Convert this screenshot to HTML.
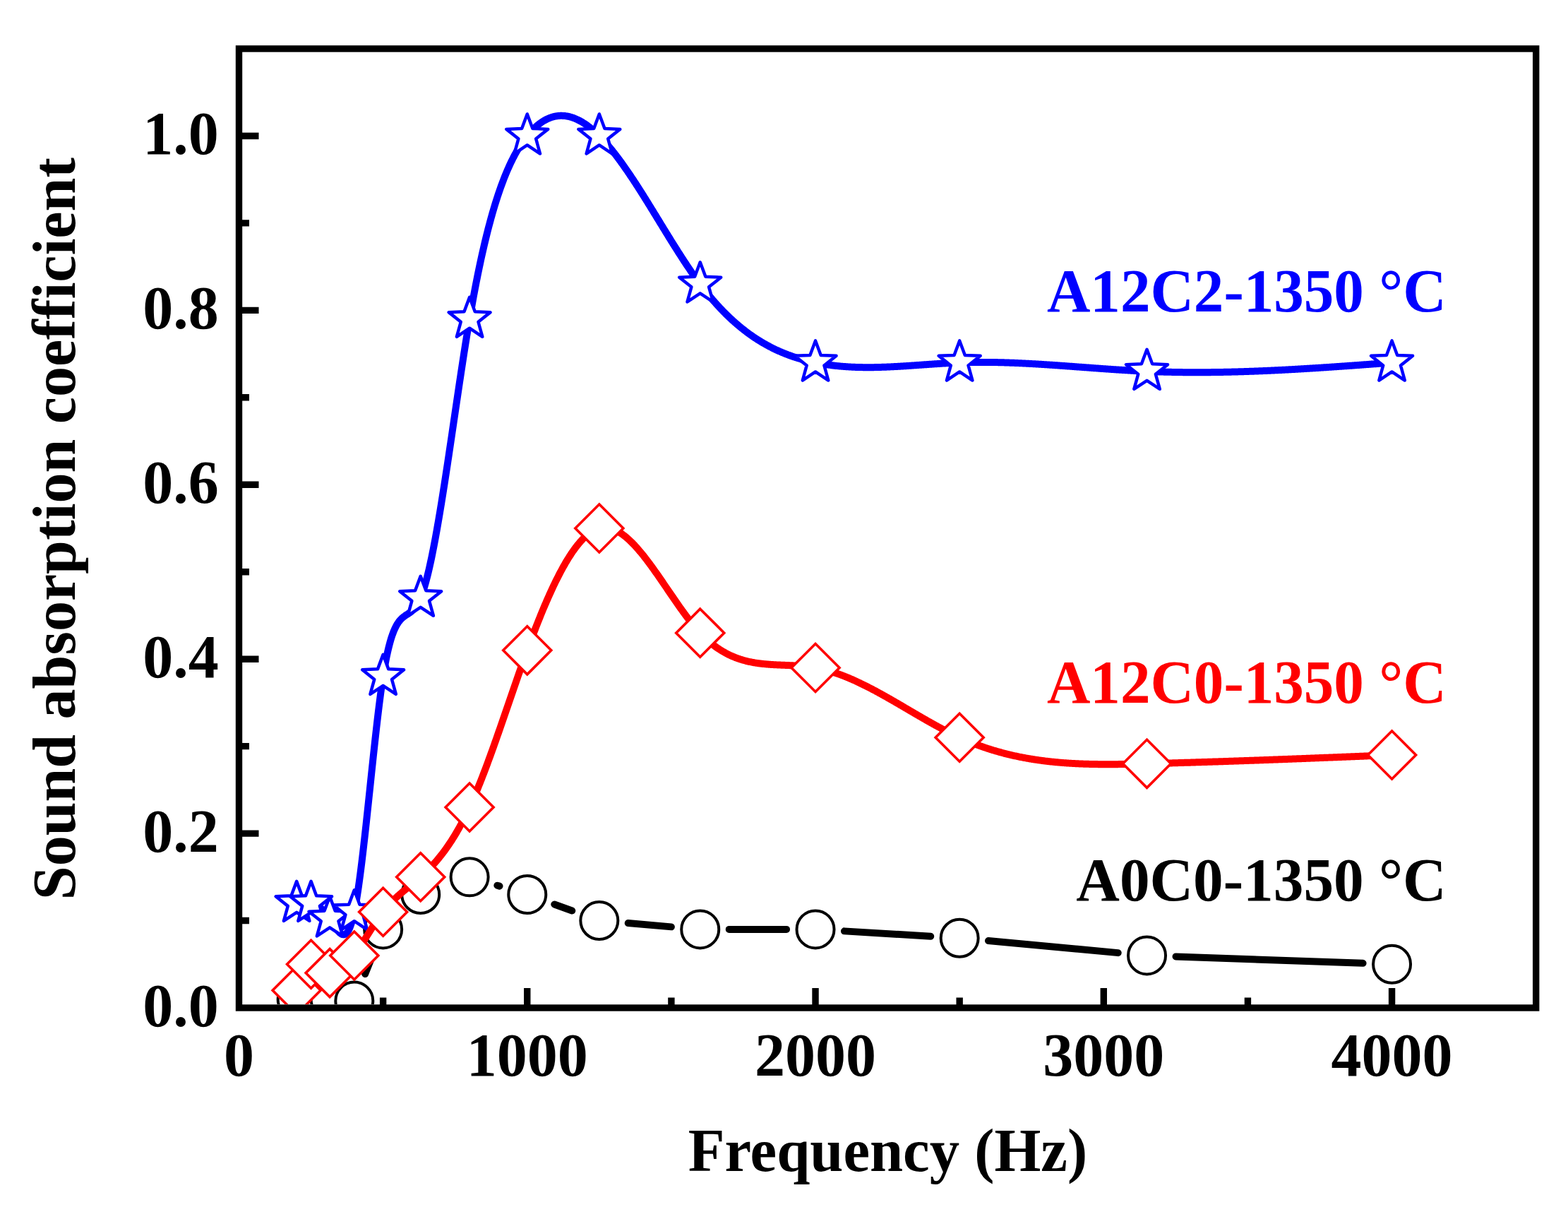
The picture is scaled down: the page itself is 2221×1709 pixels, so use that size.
<!DOCTYPE html>
<html><head><meta charset="utf-8"><title>Sound absorption coefficient</title>
<style>
html,body{margin:0;padding:0;background:#fff;}
svg{display:block;}
text{font-family:"Liberation Serif","Times New Roman",serif;font-weight:bold;}
</style></head><body>
<svg width="2221" height="1709" viewBox="0 0 2221 1709">
<rect x="0" y="0" width="2221" height="1709" fill="#fff"/>
<defs><clipPath id="pa"><rect x="343.5" y="74.0" width="1827.2" height="1348.0"/></clipPath></defs>
<g clip-path="url(#pa)">
<path d="M517.14,1379.10 L527.30,1353.92 M704.36,1253.69 L707.52,1254.64 M785.31,1280.49 L810.29,1289.56 M889.68,1307.07 L950.88,1312.36 M1032.73,1315.89 L1114.03,1315.89 M1195.96,1318.37 L1318.24,1325.76 M1399.99,1332.03 L1583.72,1349.13 M1665.51,1354.38 L1930.59,1363.82" fill="none" stroke="#000" stroke-width="10" stroke-linecap="round"/>
<circle cx="420.15" cy="1414.65" r="26.5" fill="#fff" stroke="#000" stroke-width="4"/>
<circle cx="440.57" cy="1414.65" r="26.5" fill="#fff" stroke="#000" stroke-width="4"/>
<circle cx="467.10" cy="1414.65" r="26.5" fill="#fff" stroke="#000" stroke-width="4"/>
<circle cx="501.81" cy="1417.12" r="26.5" fill="#fff" stroke="#000" stroke-width="4"/>
<circle cx="542.63" cy="1315.89" r="26.5" fill="#fff" stroke="#000" stroke-width="4"/>
<circle cx="595.71" cy="1266.51" r="26.5" fill="#fff" stroke="#000" stroke-width="4"/>
<circle cx="665.11" cy="1241.82" r="26.5" fill="#fff" stroke="#000" stroke-width="4"/>
<circle cx="746.77" cy="1266.51" r="26.5" fill="#fff" stroke="#000" stroke-width="4"/>
<circle cx="848.83" cy="1303.55" r="26.5" fill="#fff" stroke="#000" stroke-width="4"/>
<circle cx="991.73" cy="1315.89" r="26.5" fill="#fff" stroke="#000" stroke-width="4"/>
<circle cx="1155.03" cy="1315.89" r="26.5" fill="#fff" stroke="#000" stroke-width="4"/>
<circle cx="1359.17" cy="1328.24" r="26.5" fill="#fff" stroke="#000" stroke-width="4"/>
<circle cx="1624.54" cy="1352.93" r="26.5" fill="#fff" stroke="#000" stroke-width="4"/>
<circle cx="1971.57" cy="1365.27" r="26.5" fill="#fff" stroke="#000" stroke-width="4"/>
<path d="M420.15,1278.85 L421.19,1278.73 L422.22,1278.61 L423.26,1278.49 L424.29,1278.38 L425.33,1278.27 L426.36,1278.18 L427.40,1278.10 L428.43,1278.03 L429.47,1277.97 L430.50,1277.93 L431.54,1277.91 L432.57,1277.92 L433.61,1277.94 L434.64,1277.99 L435.68,1278.07 L436.71,1278.18 L437.75,1278.31 L438.78,1278.48 L439.82,1278.68 L440.85,1278.92 L441.89,1279.20 L442.92,1279.52 L443.96,1279.88 L444.99,1280.27 L446.03,1280.71 L447.06,1281.19 L448.10,1281.72 L449.13,1282.29 L450.17,1282.91 L451.20,1283.57 L452.24,1284.28 L453.27,1285.04 L454.31,1285.85 L455.34,1286.71 L456.38,1287.62 L457.41,1288.59 L458.45,1289.60 L459.48,1290.67 L460.52,1291.80 L461.55,1292.98 L462.59,1294.23 L463.62,1295.52 L464.66,1296.88 L465.69,1298.30 L466.73,1299.78 L467.76,1301.32 L468.80,1302.92 L469.83,1304.55 L470.87,1306.20 L471.90,1307.86 L472.94,1309.52 L473.97,1311.14 L475.01,1312.74 L476.04,1314.27 L477.08,1315.74 L478.11,1317.13 L479.15,1318.41 L480.18,1319.58 L481.22,1320.62 L482.25,1321.51 L483.29,1322.25 L484.32,1322.81 L485.36,1323.18 L486.39,1323.34 L487.43,1323.28 L488.46,1322.98 L489.50,1322.43 L490.53,1321.62 L491.57,1320.52 L492.60,1319.13 L493.64,1317.42 L494.67,1315.39 L495.71,1313.01 L496.74,1310.27 L497.78,1307.16 L498.81,1303.66 L499.85,1299.76 L500.88,1295.44 L501.92,1290.68 L502.95,1285.48 L503.99,1279.86 L505.02,1273.83 L506.06,1267.41 L507.09,1260.64 L508.13,1253.51 L509.16,1246.07 L510.20,1238.32 L511.23,1230.30 L512.27,1222.01 L513.30,1213.48 L514.34,1204.73 L515.37,1195.78 L516.41,1186.65 L517.44,1177.36 L518.48,1167.93 L519.51,1158.39 L520.54,1148.75 L521.58,1139.03 L522.61,1129.25 L523.65,1119.44 L524.68,1109.62 L525.72,1099.80 L526.75,1090.01 L527.79,1080.26 L528.82,1070.58 L529.86,1060.99 L530.89,1051.50 L531.93,1042.15 L532.96,1032.94 L534.00,1023.90 L535.03,1015.05 L536.07,1006.42 L537.10,998.01 L538.14,989.86 L539.17,981.97 L540.21,974.39 L541.24,967.11 L542.28,960.17 L543.31,953.58 L544.35,947.34 L545.38,941.45 L546.42,935.89 L547.45,930.65 L548.49,925.72 L549.52,921.09 L550.56,916.75 L551.59,912.69 L552.63,908.89 L553.66,905.35 L554.70,902.06 L555.73,899.00 L556.77,896.16 L557.80,893.53 L558.84,891.11 L559.87,888.88 L560.91,886.82 L561.94,884.93 L562.98,883.21 L564.01,881.62 L565.05,880.18 L566.08,878.86 L567.12,877.65 L568.15,876.55 L569.19,875.53 L570.22,874.60 L571.26,873.74 L572.29,872.94 L573.33,872.19 L574.36,871.48 L575.40,870.79 L576.43,870.12 L577.47,869.45 L578.50,868.77 L579.54,868.08 L580.57,867.37 L581.61,866.61 L582.64,865.80 L583.68,864.93 L584.71,863.99 L585.75,862.97 L586.78,861.86 L587.82,860.64 L588.85,859.30 L589.89,857.84 L590.92,856.25 L591.96,854.50 L592.99,852.60 L594.03,850.52 L595.06,848.27 L596.10,845.82 L597.13,843.18 L598.17,840.34 L599.20,837.32 L600.24,834.11 L601.27,830.73 L602.31,827.16 L603.34,823.43 L604.38,819.53 L605.41,815.47 L606.45,811.25 L607.48,806.88 L608.52,802.36 L609.55,797.69 L610.59,792.88 L611.62,787.94 L612.66,782.86 L613.69,777.65 L614.73,772.33 L615.76,766.88 L616.80,761.32 L617.83,755.64 L618.87,749.87 L619.90,743.98 L620.94,738.01 L621.97,731.93 L623.01,725.77 L624.04,719.53 L625.08,713.20 L626.11,706.80 L627.15,700.33 L628.18,693.79 L629.22,687.18 L630.25,680.52 L631.29,673.80 L632.32,667.04 L633.36,660.22 L634.39,653.37 L635.43,646.48 L636.46,639.55 L637.50,632.60 L638.53,625.62 L639.57,618.62 L640.60,611.61 L641.64,604.58 L642.67,597.55 L643.71,590.52 L644.74,583.48 L645.78,576.46 L646.81,569.44 L647.85,562.44 L648.88,555.45 L649.92,548.49 L650.95,541.56 L651.99,534.66 L653.02,527.79 L654.06,520.97 L655.09,514.19 L656.13,507.46 L657.16,500.78 L658.20,494.16 L659.23,487.60 L660.27,481.11 L661.30,474.69 L662.34,468.34 L663.37,462.07 L664.41,455.89 L665.44,449.79 L666.48,443.79 L667.51,437.87 L668.55,432.04 L669.58,426.31 L670.61,420.65 L671.65,415.09 L672.68,409.61 L673.72,404.22 L674.75,398.91 L675.79,393.68 L676.82,388.54 L677.86,383.48 L678.89,378.50 L679.93,373.61 L680.96,368.79 L682.00,364.05 L683.03,359.39 L684.07,354.80 L685.10,350.30 L686.14,345.87 L687.17,341.51 L688.21,337.23 L689.24,333.03 L690.28,328.90 L691.31,324.83 L692.35,320.85 L693.38,316.93 L694.42,313.08 L695.45,309.30 L696.49,305.59 L697.52,301.95 L698.56,298.37 L699.59,294.86 L700.63,291.42 L701.66,288.04 L702.70,284.72 L703.73,281.47 L704.77,278.28 L705.80,275.15 L706.84,272.09 L707.87,269.08 L708.91,266.13 L709.94,263.24 L710.98,260.41 L712.01,257.64 L713.05,254.92 L714.08,252.26 L715.12,249.65 L716.15,247.10 L717.19,244.60 L718.22,242.15 L719.26,239.76 L720.29,237.42 L721.33,235.12 L722.36,232.88 L723.40,230.68 L724.43,228.54 L725.47,226.44 L726.50,224.38 L727.54,222.37 L728.57,220.41 L729.61,218.49 L730.64,216.62 L731.68,214.79 L732.71,213.00 L733.75,211.25 L734.78,209.54 L735.82,207.87 L736.85,206.24 L737.89,204.65 L738.92,203.10 L739.96,201.58 L740.99,200.10 L742.03,198.65 L743.06,197.24 L744.10,195.86 L745.13,194.51 L746.17,193.20 L747.20,191.92 L748.24,190.67 L749.27,189.45 L750.31,188.26 L751.34,187.10 L752.38,185.97 L753.41,184.87 L754.45,183.80 L755.48,182.76 L756.52,181.75 L757.55,180.77 L758.59,179.82 L759.62,178.90 L760.66,178.00 L761.69,177.14 L762.73,176.30 L763.76,175.50 L764.80,174.72 L765.83,173.97 L766.87,173.25 L767.90,172.55 L768.94,171.89 L769.97,171.25 L771.01,170.64 L772.04,170.06 L773.08,169.50 L774.11,168.97 L775.15,168.47 L776.18,167.99 L777.22,167.54 L778.25,167.12 L779.29,166.73 L780.32,166.36 L781.36,166.01 L782.39,165.70 L783.43,165.40 L784.46,165.14 L785.50,164.90 L786.53,164.68 L787.57,164.49 L788.60,164.32 L789.64,164.18 L790.67,164.07 L791.71,163.97 L792.74,163.91 L793.78,163.86 L794.81,163.84 L795.85,163.85 L796.88,163.88 L797.92,163.93 L798.95,164.00 L799.99,164.10 L801.02,164.22 L802.06,164.37 L803.09,164.54 L804.13,164.73 L805.16,164.94 L806.20,165.18 L807.23,165.43 L808.27,165.71 L809.30,166.02 L810.34,166.34 L811.37,166.68 L812.41,167.05 L813.44,167.44 L814.48,167.85 L815.51,168.28 L816.55,168.73 L817.58,169.20 L818.62,169.69 L819.65,170.21 L820.68,170.74 L821.72,171.29 L822.75,171.87 L823.79,172.46 L824.82,173.07 L825.86,173.70 L826.89,174.36 L827.93,175.03 L828.96,175.72 L830.00,176.43 L831.03,177.15 L832.07,177.90 L833.10,178.66 L834.14,179.45 L835.17,180.25 L836.21,181.07 L837.24,181.91 L838.28,182.76 L839.31,183.63 L840.35,184.52 L841.38,185.43 L842.42,186.35 L843.45,187.30 L844.49,188.25 L845.52,189.23 L846.56,190.22 L847.59,191.23 L848.63,192.25 L849.66,193.29 L850.70,194.35 L851.73,195.42 L852.77,196.50 L853.80,197.61 L854.84,198.72 L855.87,199.86 L856.91,201.00 L857.94,202.16 L858.98,203.34 L860.01,204.53 L861.05,205.73 L862.08,206.95 L863.12,208.18 L864.15,209.43 L865.19,210.68 L866.22,211.95 L867.26,213.24 L868.29,214.53 L869.33,215.84 L870.36,217.16 L871.40,218.49 L872.43,219.84 L873.47,221.19 L874.50,222.56 L875.54,223.94 L876.57,225.32 L877.61,226.72 L878.64,228.13 L879.68,229.56 L880.71,230.99 L881.75,232.43 L882.78,233.88 L883.82,235.34 L884.85,236.81 L885.89,238.29 L886.92,239.77 L887.96,241.27 L888.99,242.78 L890.03,244.29 L891.06,245.81 L892.10,247.34 L893.13,248.88 L894.17,250.43 L895.20,251.98 L896.24,253.54 L897.27,255.11 L898.31,256.68 L899.34,258.26 L900.38,259.85 L901.41,261.44 L902.45,263.04 L903.48,264.65 L904.52,266.26 L905.55,267.88 L906.59,269.50 L907.62,271.13 L908.66,272.76 L909.69,274.40 L910.73,276.04 L911.76,277.69 L912.80,279.34 L913.83,280.99 L914.87,282.65 L915.90,284.31 L916.94,285.97 L917.97,287.64 L919.01,289.31 L920.04,290.99 L921.08,292.66 L922.11,294.34 L923.15,296.02 L924.18,297.70 L925.22,299.39 L926.25,301.07 L927.29,302.76 L928.32,304.45 L929.36,306.14 L930.39,307.83 L931.43,309.52 L932.46,311.21 L933.50,312.90 L934.53,314.60 L935.57,316.29 L936.60,317.98 L937.64,319.67 L938.67,321.36 L939.71,323.05 L940.74,324.74 L941.78,326.42 L942.81,328.11 L943.85,329.79 L944.88,331.47 L945.92,333.15 L946.95,334.83 L947.99,336.50 L949.02,338.17 L950.06,339.84 L951.09,341.51 L952.13,343.17 L953.16,344.83 L954.20,346.48 L955.23,348.14 L956.27,349.78 L957.30,351.43 L958.34,353.06 L959.37,354.70 L960.41,356.33 L961.44,357.95 L962.48,359.57 L963.51,361.18 L964.55,362.79 L965.58,364.39 L966.62,365.99 L967.65,367.58 L968.69,369.16 L969.72,370.74 L970.75,372.31 L971.79,373.87 L972.82,375.42 L973.86,376.97 L974.89,378.51 L975.93,380.04 L976.96,381.57 L978.00,383.08 L979.03,384.59 L980.07,386.09 L981.10,387.58 L982.14,389.06 L983.17,390.54 L984.21,392.00 L985.24,393.45 L986.28,394.90 L987.31,396.33 L988.35,397.75 L989.38,399.17 L990.42,400.57 L991.45,401.96 L992.49,403.34 L993.52,404.71 L994.56,406.07 L995.59,407.42 L996.63,408.76 L997.66,410.09 L998.70,411.40 L999.73,412.71 L1000.77,414.00 L1001.80,415.29 L1002.84,416.56 L1003.87,417.82 L1004.91,419.08 L1005.94,420.32 L1006.98,421.55 L1008.01,422.77 L1009.05,423.99 L1010.08,425.19 L1011.12,426.38 L1012.15,427.56 L1013.19,428.73 L1014.22,429.89 L1015.26,431.04 L1016.29,432.18 L1017.33,433.31 L1018.36,434.43 L1019.40,435.55 L1020.43,436.65 L1021.47,437.74 L1022.50,438.82 L1023.54,439.89 L1024.57,440.96 L1025.61,442.01 L1026.64,443.05 L1027.68,444.09 L1028.71,445.11 L1029.75,446.13 L1030.78,447.13 L1031.82,448.13 L1032.85,449.12 L1033.89,450.10 L1034.92,451.07 L1035.96,452.03 L1036.99,452.98 L1038.03,453.92 L1039.06,454.85 L1040.10,455.78 L1041.13,456.69 L1042.17,457.60 L1043.20,458.50 L1044.24,459.39 L1045.27,460.27 L1046.31,461.14 L1047.34,462.00 L1048.38,462.86 L1049.41,463.70 L1050.45,464.54 L1051.48,465.37 L1052.52,466.19 L1053.55,467.00 L1054.59,467.81 L1055.62,468.60 L1056.66,469.39 L1057.69,470.17 L1058.73,470.94 L1059.76,471.70 L1060.80,472.46 L1061.83,473.21 L1062.87,473.95 L1063.90,474.68 L1064.94,475.40 L1065.97,476.12 L1067.01,476.83 L1068.04,477.53 L1069.08,478.22 L1070.11,478.90 L1071.15,479.58 L1072.18,480.25 L1073.22,480.91 L1074.25,481.57 L1075.29,482.22 L1076.32,482.86 L1077.36,483.49 L1078.39,484.11 L1079.43,484.73 L1080.46,485.34 L1081.50,485.95 L1082.53,486.55 L1083.57,487.14 L1084.60,487.72 L1085.64,488.30 L1086.67,488.86 L1087.71,489.43 L1088.74,489.98 L1089.78,490.53 L1090.81,491.07 L1091.85,491.61 L1092.88,492.14 L1093.92,492.66 L1094.95,493.18 L1095.99,493.68 L1097.02,494.19 L1098.06,494.68 L1099.09,495.17 L1100.13,495.66 L1101.16,496.13 L1102.20,496.61 L1103.23,497.07 L1104.27,497.53 L1105.30,497.98 L1106.34,498.43 L1107.37,498.87 L1108.41,499.30 L1109.44,499.73 L1110.48,500.16 L1111.51,500.57 L1112.55,500.98 L1113.58,501.39 L1114.62,501.79 L1115.65,502.18 L1116.69,502.57 L1117.72,502.96 L1118.76,503.33 L1119.79,503.71 L1120.82,504.07 L1121.86,504.43 L1122.89,504.79 L1123.93,505.14 L1124.96,505.49 L1126.00,505.83 L1127.03,506.16 L1128.07,506.49 L1129.10,506.82 L1130.14,507.14 L1131.17,507.45 L1132.21,507.76 L1133.24,508.07 L1134.28,508.37 L1135.31,508.66 L1136.35,508.95 L1137.38,509.24 L1138.42,509.52 L1139.45,509.80 L1140.49,510.07 L1141.52,510.34 L1142.56,510.60 L1143.59,510.86 L1144.63,511.11 L1145.66,511.36 L1146.70,511.61 L1147.73,511.85 L1148.77,512.09 L1149.80,512.32 L1150.84,512.55 L1151.87,512.77 L1152.91,513.00 L1153.94,513.21 L1154.98,513.43 L1156.01,513.63 L1157.05,513.84 L1158.08,514.04 L1159.12,514.24 L1160.15,514.43 L1161.19,514.62 L1162.22,514.81 L1163.26,514.99 L1164.29,515.17 L1165.33,515.35 L1166.36,515.52 L1167.40,515.69 L1168.43,515.85 L1169.47,516.01 L1170.50,516.17 L1171.54,516.32 L1172.57,516.47 L1173.61,516.62 L1174.64,516.76 L1175.68,516.90 L1176.71,517.04 L1177.75,517.17 L1178.78,517.30 L1179.82,517.43 L1180.85,517.55 L1181.89,517.67 L1182.92,517.79 L1183.96,517.91 L1184.99,518.02 L1186.03,518.12 L1187.06,518.23 L1188.10,518.33 L1189.13,518.43 L1190.17,518.52 L1191.20,518.62 L1192.24,518.71 L1193.27,518.79 L1194.31,518.88 L1195.34,518.96 L1196.38,519.04 L1197.41,519.11 L1198.45,519.18 L1199.48,519.25 L1200.52,519.32 L1201.55,519.38 L1202.59,519.45 L1203.62,519.51 L1204.66,519.56 L1205.69,519.62 L1206.73,519.67 L1207.76,519.71 L1208.80,519.76 L1209.83,519.80 L1210.87,519.84 L1211.90,519.88 L1212.94,519.92 L1213.97,519.95 L1215.01,519.98 L1216.04,520.01 L1217.08,520.04 L1218.11,520.06 L1219.15,520.09 L1220.18,520.11 L1221.22,520.12 L1222.25,520.14 L1223.29,520.15 L1224.32,520.16 L1225.36,520.17 L1226.39,520.18 L1227.43,520.18 L1228.46,520.19 L1229.50,520.19 L1230.53,520.19 L1231.57,520.18 L1232.60,520.18 L1233.64,520.17 L1234.67,520.16 L1235.71,520.15 L1236.74,520.14 L1237.78,520.13 L1238.81,520.11 L1239.85,520.09 L1240.88,520.07 L1241.92,520.05 L1242.95,520.03 L1243.99,520.01 L1245.02,519.98 L1246.06,519.95 L1247.09,519.92 L1248.13,519.89 L1249.16,519.86 L1250.20,519.83 L1251.23,519.79 L1252.27,519.76 L1253.30,519.72 L1254.34,519.68 L1255.37,519.64 L1256.41,519.60 L1257.44,519.55 L1258.48,519.51 L1259.51,519.46 L1260.55,519.42 L1261.58,519.37 L1262.62,519.32 L1263.65,519.27 L1264.69,519.22 L1265.72,519.17 L1266.76,519.11 L1267.79,519.06 L1268.83,519.00 L1269.86,518.95 L1270.90,518.89 L1271.93,518.83 L1272.96,518.77 L1274.00,518.71 L1275.03,518.65 L1276.07,518.59 L1277.10,518.53 L1278.14,518.47 L1279.17,518.40 L1280.21,518.34 L1281.24,518.27 L1282.28,518.21 L1283.31,518.14 L1284.35,518.07 L1285.38,518.01 L1286.42,517.94 L1287.45,517.87 L1288.49,517.80 L1289.52,517.73 L1290.56,517.66 L1291.59,517.59 L1292.63,517.52 L1293.66,517.45 L1294.70,517.38 L1295.73,517.31 L1296.77,517.23 L1297.80,517.16 L1298.84,517.09 L1299.87,517.02 L1300.91,516.94 L1301.94,516.87 L1302.98,516.80 L1304.01,516.73 L1305.05,516.65 L1306.08,516.58 L1307.12,516.51 L1308.15,516.43 L1309.19,516.36 L1310.22,516.29 L1311.26,516.22 L1312.29,516.14 L1313.33,516.07 L1314.36,516.00 L1315.40,515.93 L1316.43,515.85 L1317.47,515.78 L1318.50,515.71 L1319.54,515.64 L1320.57,515.57 L1321.61,515.50 L1322.64,515.43 L1323.68,515.36 L1324.71,515.29 L1325.75,515.22 L1326.78,515.16 L1327.82,515.09 L1328.85,515.02 L1329.89,514.95 L1330.92,514.89 L1331.96,514.82 L1332.99,514.76 L1334.03,514.70 L1335.06,514.63 L1336.10,514.57 L1337.13,514.51 L1338.17,514.45 L1339.20,514.39 L1340.24,514.33 L1341.27,514.27 L1342.31,514.22 L1343.34,514.16 L1344.38,514.10 L1345.41,514.05 L1346.45,514.00 L1347.48,513.94 L1348.52,513.89 L1349.55,513.84 L1350.59,513.79 L1351.62,513.75 L1352.66,513.70 L1353.69,513.66 L1354.73,513.61 L1355.76,513.57 L1356.80,513.53 L1357.83,513.49 L1358.87,513.45 L1359.90,513.41 L1360.94,513.37 L1361.97,513.34 L1363.01,513.31 L1364.04,513.27 L1365.08,513.24 L1366.11,513.21 L1367.15,513.18 L1368.18,513.16 L1369.22,513.13 L1370.25,513.11 L1371.29,513.08 L1372.32,513.06 L1373.36,513.04 L1374.39,513.02 L1375.43,513.01 L1376.46,512.99 L1377.50,512.97 L1378.53,512.96 L1379.57,512.95 L1380.60,512.93 L1381.64,512.92 L1382.67,512.91 L1383.71,512.91 L1384.74,512.90 L1385.78,512.89 L1386.81,512.89 L1387.85,512.88 L1388.88,512.88 L1389.92,512.88 L1390.95,512.88 L1391.99,512.88 L1393.02,512.88 L1394.06,512.89 L1395.09,512.89 L1396.13,512.90 L1397.16,512.90 L1398.20,512.91 L1399.23,512.92 L1400.27,512.93 L1401.30,512.94 L1402.34,512.95 L1403.37,512.96 L1404.41,512.98 L1405.44,512.99 L1406.48,513.01 L1407.51,513.02 L1408.55,513.04 L1409.58,513.06 L1410.62,513.08 L1411.65,513.10 L1412.69,513.12 L1413.72,513.14 L1414.76,513.17 L1415.79,513.19 L1416.83,513.22 L1417.86,513.24 L1418.90,513.27 L1419.93,513.30 L1420.97,513.33 L1422.00,513.36 L1423.03,513.39 L1424.07,513.42 L1425.10,513.45 L1426.14,513.49 L1427.17,513.52 L1428.21,513.55 L1429.24,513.59 L1430.28,513.63 L1431.31,513.66 L1432.35,513.70 L1433.38,513.74 L1434.42,513.78 L1435.45,513.82 L1436.49,513.86 L1437.52,513.91 L1438.56,513.95 L1439.59,513.99 L1440.63,514.04 L1441.66,514.08 L1442.70,514.13 L1443.73,514.17 L1444.77,514.22 L1445.80,514.27 L1446.84,514.32 L1447.87,514.37 L1448.91,514.42 L1449.94,514.47 L1450.98,514.52 L1452.01,514.57 L1453.05,514.62 L1454.08,514.67 L1455.12,514.73 L1456.15,514.78 L1457.19,514.84 L1458.22,514.89 L1459.26,514.95 L1460.29,515.01 L1461.33,515.06 L1462.36,515.12 L1463.40,515.18 L1464.43,515.24 L1465.47,515.30 L1466.50,515.36 L1467.54,515.42 L1468.57,515.48 L1469.61,515.54 L1470.64,515.60 L1471.68,515.66 L1472.71,515.73 L1473.75,515.79 L1474.78,515.86 L1475.82,515.92 L1476.85,515.98 L1477.89,516.05 L1478.92,516.12 L1479.96,516.18 L1480.99,516.25 L1482.03,516.32 L1483.06,516.38 L1484.10,516.45 L1485.13,516.52 L1486.17,516.59 L1487.20,516.66 L1488.24,516.72 L1489.27,516.79 L1490.31,516.86 L1491.34,516.93 L1492.38,517.01 L1493.41,517.08 L1494.45,517.15 L1495.48,517.22 L1496.52,517.29 L1497.55,517.36 L1498.59,517.43 L1499.62,517.51 L1500.66,517.58 L1501.69,517.65 L1502.73,517.73 L1503.76,517.80 L1504.80,517.87 L1505.83,517.95 L1506.87,518.02 L1507.90,518.10 L1508.94,518.17 L1509.97,518.25 L1511.01,518.32 L1512.04,518.40 L1513.08,518.47 L1514.11,518.55 L1515.15,518.62 L1516.18,518.70 L1517.22,518.77 L1518.25,518.85 L1519.29,518.93 L1520.32,519.00 L1521.36,519.08 L1522.39,519.16 L1523.43,519.23 L1524.46,519.31 L1525.50,519.39 L1526.53,519.46 L1527.57,519.54 L1528.60,519.62 L1529.64,519.69 L1530.67,519.77 L1531.71,519.85 L1532.74,519.92 L1533.78,520.00 L1534.81,520.08 L1535.85,520.15 L1536.88,520.23 L1537.92,520.31 L1538.95,520.38 L1539.99,520.46 L1541.02,520.54 L1542.06,520.61 L1543.09,520.69 L1544.13,520.77 L1545.16,520.84 L1546.20,520.92 L1547.23,521.00 L1548.27,521.07 L1549.30,521.15 L1550.34,521.22 L1551.37,521.30 L1552.41,521.37 L1553.44,521.45 L1554.48,521.52 L1555.51,521.60 L1556.55,521.67 L1557.58,521.75 L1558.62,521.82 L1559.65,521.90 L1560.69,521.97 L1561.72,522.04 L1562.76,522.12 L1563.79,522.19 L1564.83,522.26 L1565.86,522.34 L1566.90,522.41 L1567.93,522.48 L1568.97,522.55 L1570.00,522.63 L1571.04,522.70 L1572.07,522.77 L1573.10,522.84 L1574.14,522.91 L1575.17,522.98 L1576.21,523.05 L1577.24,523.12 L1578.28,523.19 L1579.31,523.26 L1580.35,523.32 L1581.38,523.39 L1582.42,523.46 L1583.45,523.53 L1584.49,523.59 L1585.52,523.66 L1586.56,523.73 L1587.59,523.79 L1588.63,523.86 L1589.66,523.92 L1590.70,523.99 L1591.73,524.05 L1592.77,524.11 L1593.80,524.17 L1594.84,524.24 L1595.87,524.30 L1596.91,524.36 L1597.94,524.42 L1598.98,524.48 L1600.01,524.54 L1601.05,524.60 L1602.08,524.66 L1603.12,524.72 L1604.15,524.77 L1605.19,524.83 L1606.22,524.89 L1607.26,524.94 L1608.29,525.00 L1609.33,525.05 L1610.36,525.11 L1611.40,525.16 L1612.43,525.21 L1613.47,525.27 L1614.50,525.32 L1615.54,525.37 L1616.57,525.42 L1617.61,525.47 L1618.64,525.52 L1619.68,525.56 L1620.71,525.61 L1621.75,525.66 L1622.78,525.71 L1623.82,525.75 L1624.85,525.80 L1625.89,525.84 L1626.92,525.88 L1627.96,525.92 L1628.99,525.97 L1630.03,526.01 L1631.06,526.05 L1632.10,526.09 L1633.13,526.13 L1634.17,526.16 L1635.20,526.20 L1636.24,526.24 L1637.27,526.27 L1638.31,526.31 L1639.34,526.35 L1640.38,526.38 L1641.41,526.41 L1642.45,526.44 L1643.48,526.48 L1644.52,526.51 L1645.55,526.54 L1646.59,526.57 L1647.62,526.60 L1648.66,526.63 L1649.69,526.65 L1650.73,526.68 L1651.76,526.71 L1652.80,526.73 L1653.83,526.76 L1654.87,526.78 L1655.90,526.81 L1656.94,526.83 L1657.97,526.85 L1659.01,526.87 L1660.04,526.90 L1661.08,526.92 L1662.11,526.94 L1663.15,526.95 L1664.18,526.97 L1665.22,526.99 L1666.25,527.01 L1667.29,527.02 L1668.32,527.04 L1669.36,527.06 L1670.39,527.07 L1671.43,527.09 L1672.46,527.10 L1673.50,527.11 L1674.53,527.12 L1675.57,527.14 L1676.60,527.15 L1677.64,527.16 L1678.67,527.17 L1679.71,527.18 L1680.74,527.18 L1681.78,527.19 L1682.81,527.20 L1683.85,527.21 L1684.88,527.21 L1685.92,527.22 L1686.95,527.22 L1687.99,527.23 L1689.02,527.23 L1690.06,527.23 L1691.09,527.24 L1692.13,527.24 L1693.16,527.24 L1694.20,527.24 L1695.23,527.24 L1696.27,527.24 L1697.30,527.24 L1698.34,527.24 L1699.37,527.23 L1700.41,527.23 L1701.44,527.23 L1702.48,527.22 L1703.51,527.22 L1704.55,527.22 L1705.58,527.21 L1706.62,527.20 L1707.65,527.20 L1708.69,527.19 L1709.72,527.18 L1710.76,527.17 L1711.79,527.16 L1712.83,527.16 L1713.86,527.15 L1714.90,527.14 L1715.93,527.12 L1716.97,527.11 L1718.00,527.10 L1719.04,527.09 L1720.07,527.07 L1721.11,527.06 L1722.14,527.05 L1723.17,527.03 L1724.21,527.02 L1725.24,527.00 L1726.28,526.98 L1727.31,526.97 L1728.35,526.95 L1729.38,526.93 L1730.42,526.91 L1731.45,526.90 L1732.49,526.88 L1733.52,526.86 L1734.56,526.84 L1735.59,526.82 L1736.63,526.79 L1737.66,526.77 L1738.70,526.75 L1739.73,526.73 L1740.77,526.70 L1741.80,526.68 L1742.84,526.66 L1743.87,526.63 L1744.91,526.61 L1745.94,526.58 L1746.98,526.55 L1748.01,526.53 L1749.05,526.50 L1750.08,526.47 L1751.12,526.44 L1752.15,526.42 L1753.19,526.39 L1754.22,526.36 L1755.26,526.33 L1756.29,526.30 L1757.33,526.27 L1758.36,526.24 L1759.40,526.20 L1760.43,526.17 L1761.47,526.14 L1762.50,526.11 L1763.54,526.07 L1764.57,526.04 L1765.61,526.00 L1766.64,525.97 L1767.68,525.94 L1768.71,525.90 L1769.75,525.86 L1770.78,525.83 L1771.82,525.79 L1772.85,525.75 L1773.89,525.72 L1774.92,525.68 L1775.96,525.64 L1776.99,525.60 L1778.03,525.56 L1779.06,525.52 L1780.10,525.48 L1781.13,525.44 L1782.17,525.40 L1783.20,525.36 L1784.24,525.32 L1785.27,525.27 L1786.31,525.23 L1787.34,525.19 L1788.38,525.15 L1789.41,525.10 L1790.45,525.06 L1791.48,525.01 L1792.52,524.97 L1793.55,524.92 L1794.59,524.88 L1795.62,524.83 L1796.66,524.79 L1797.69,524.74 L1798.73,524.69 L1799.76,524.64 L1800.80,524.60 L1801.83,524.55 L1802.87,524.50 L1803.90,524.45 L1804.94,524.40 L1805.97,524.35 L1807.01,524.30 L1808.04,524.25 L1809.08,524.20 L1810.11,524.15 L1811.15,524.10 L1812.18,524.05 L1813.22,524.00 L1814.25,523.94 L1815.29,523.89 L1816.32,523.84 L1817.36,523.78 L1818.39,523.73 L1819.43,523.68 L1820.46,523.62 L1821.50,523.57 L1822.53,523.51 L1823.57,523.46 L1824.60,523.40 L1825.64,523.35 L1826.67,523.29 L1827.71,523.23 L1828.74,523.18 L1829.78,523.12 L1830.81,523.06 L1831.85,523.01 L1832.88,522.95 L1833.92,522.89 L1834.95,522.83 L1835.99,522.77 L1837.02,522.71 L1838.06,522.66 L1839.09,522.60 L1840.13,522.54 L1841.16,522.48 L1842.20,522.42 L1843.23,522.35 L1844.27,522.29 L1845.30,522.23 L1846.34,522.17 L1847.37,522.11 L1848.41,522.05 L1849.44,521.98 L1850.48,521.92 L1851.51,521.86 L1852.55,521.80 L1853.58,521.73 L1854.62,521.67 L1855.65,521.61 L1856.69,521.54 L1857.72,521.48 L1858.76,521.41 L1859.79,521.35 L1860.83,521.28 L1861.86,521.22 L1862.90,521.15 L1863.93,521.09 L1864.97,521.02 L1866.00,520.96 L1867.04,520.89 L1868.07,520.82 L1869.11,520.76 L1870.14,520.69 L1871.18,520.62 L1872.21,520.55 L1873.24,520.49 L1874.28,520.42 L1875.31,520.35 L1876.35,520.28 L1877.38,520.21 L1878.42,520.15 L1879.45,520.08 L1880.49,520.01 L1881.52,519.94 L1882.56,519.87 L1883.59,519.80 L1884.63,519.73 L1885.66,519.66 L1886.70,519.59 L1887.73,519.52 L1888.77,519.45 L1889.80,519.38 L1890.84,519.31 L1891.87,519.24 L1892.91,519.17 L1893.94,519.09 L1894.98,519.02 L1896.01,518.95 L1897.05,518.88 L1898.08,518.81 L1899.12,518.74 L1900.15,518.66 L1901.19,518.59 L1902.22,518.52 L1903.26,518.45 L1904.29,518.37 L1905.33,518.30 L1906.36,518.23 L1907.40,518.15 L1908.43,518.08 L1909.47,518.01 L1910.50,517.93 L1911.54,517.86 L1912.57,517.79 L1913.61,517.71 L1914.64,517.64 L1915.68,517.56 L1916.71,517.49 L1917.75,517.41 L1918.78,517.34 L1919.82,517.27 L1920.85,517.19 L1921.89,517.12 L1922.92,517.04 L1923.96,516.97 L1924.99,516.89 L1926.03,516.81 L1927.06,516.74 L1928.10,516.66 L1929.13,516.59 L1930.17,516.51 L1931.20,516.44 L1932.24,516.36 L1933.27,516.28 L1934.31,516.21 L1935.34,516.13 L1936.38,516.06 L1937.41,515.98 L1938.45,515.90 L1939.48,515.83 L1940.52,515.75 L1941.55,515.67 L1942.59,515.60 L1943.62,515.52 L1944.66,515.44 L1945.69,515.37 L1946.73,515.29 L1947.76,515.21 L1948.80,515.14 L1949.83,515.06 L1950.87,514.98 L1951.90,514.91 L1952.94,514.83 L1953.97,514.75 L1955.01,514.67 L1956.04,514.60 L1957.08,514.52 L1958.11,514.44 L1959.15,514.37 L1960.18,514.29 L1961.22,514.21 L1962.25,514.13 L1963.29,514.06 L1964.32,513.98 L1965.36,513.90 L1966.39,513.82 L1967.43,513.75 L1968.46,513.67 L1969.50,513.59 L1970.53,513.51 L1971.57,513.44" fill="none" stroke="#00f" stroke-width="10" stroke-linejoin="round"/>
<polygon points="420.15,1247.85 427.79,1268.34 449.64,1269.28 432.52,1282.87 438.37,1303.93 420.15,1291.85 401.93,1303.93 407.79,1282.87 390.67,1269.28 412.51,1268.34" fill="#fff" stroke="#00f" stroke-width="4.5" stroke-linejoin="round"/>
<polygon points="440.57,1247.85 448.21,1268.34 470.05,1269.28 452.93,1282.87 458.79,1303.93 440.57,1291.85 422.35,1303.93 428.20,1282.87 411.08,1269.28 432.93,1268.34" fill="#fff" stroke="#00f" stroke-width="4.5" stroke-linejoin="round"/>
<polygon points="467.10,1269.34 474.75,1289.82 496.59,1290.76 479.47,1304.35 485.33,1325.42 467.10,1313.34 448.88,1325.42 454.74,1304.35 437.62,1290.76 459.46,1289.82" fill="#fff" stroke="#00f" stroke-width="4.5" stroke-linejoin="round"/>
<polygon points="501.81,1260.20 509.45,1280.68 531.29,1281.62 514.17,1295.22 520.03,1316.28 501.81,1304.20 483.59,1316.28 489.44,1295.22 472.32,1281.62 494.17,1280.68" fill="#fff" stroke="#00f" stroke-width="4.5" stroke-linejoin="round"/>
<polygon points="542.63,926.87 550.27,947.36 572.12,948.29 555.00,961.89 560.85,982.95 542.63,970.87 524.41,982.95 530.27,961.89 513.15,948.29 534.99,947.36" fill="#fff" stroke="#00f" stroke-width="4.5" stroke-linejoin="round"/>
<polygon points="595.71,815.76 603.35,836.25 625.19,837.18 608.07,850.78 613.93,871.84 595.71,859.76 577.49,871.84 583.34,850.78 566.23,837.18 588.07,836.25" fill="#fff" stroke="#00f" stroke-width="4.5" stroke-linejoin="round"/>
<polygon points="665.11,420.71 672.75,441.19 694.60,442.13 677.48,455.73 683.33,476.79 665.11,464.71 646.89,476.79 652.75,455.73 635.63,442.13 657.47,441.19" fill="#fff" stroke="#00f" stroke-width="4.5" stroke-linejoin="round"/>
<polygon points="746.77,161.45 754.41,181.94 776.25,182.88 759.13,196.47 764.99,217.53 746.77,205.45 728.55,217.53 734.40,196.47 717.28,182.88 739.13,181.94" fill="#fff" stroke="#00f" stroke-width="4.5" stroke-linejoin="round"/>
<polygon points="848.83,161.45 856.47,181.94 878.32,182.88 861.20,196.47 867.05,217.53 848.83,205.45 830.61,217.53 836.47,196.47 819.35,182.88 841.19,181.94" fill="#fff" stroke="#00f" stroke-width="4.5" stroke-linejoin="round"/>
<polygon points="991.73,371.33 999.37,391.81 1021.21,392.75 1004.09,406.34 1009.95,427.41 991.73,415.33 973.51,427.41 979.36,406.34 962.24,392.75 984.09,391.81" fill="#fff" stroke="#00f" stroke-width="4.5" stroke-linejoin="round"/>
<polygon points="1155.03,482.44 1162.67,502.92 1184.52,503.86 1167.40,517.45 1173.25,538.52 1155.03,526.44 1136.81,538.52 1142.67,517.45 1125.55,503.86 1147.39,502.92" fill="#fff" stroke="#00f" stroke-width="4.5" stroke-linejoin="round"/>
<polygon points="1359.17,482.44 1366.81,502.92 1388.65,503.86 1371.53,517.45 1377.39,538.52 1359.17,526.44 1340.95,538.52 1346.80,517.45 1329.68,503.86 1351.53,502.92" fill="#fff" stroke="#00f" stroke-width="4.5" stroke-linejoin="round"/>
<polygon points="1624.54,494.78 1632.18,515.26 1654.02,516.20 1636.90,529.80 1642.76,550.86 1624.54,538.78 1606.32,550.86 1612.18,529.80 1595.06,516.20 1616.90,515.26" fill="#fff" stroke="#00f" stroke-width="4.5" stroke-linejoin="round"/>
<polygon points="1971.57,482.44 1979.21,502.92 2001.05,503.86 1983.93,517.45 1989.79,538.52 1971.57,526.44 1953.35,538.52 1959.20,517.45 1942.08,503.86 1963.93,502.92" fill="#fff" stroke="#00f" stroke-width="4.5" stroke-linejoin="round"/>
<path d="M420.15,1402.31 L421.19,1399.83 L422.22,1397.36 L423.26,1394.91 L424.29,1392.49 L425.33,1390.10 L426.36,1387.76 L427.40,1385.48 L428.43,1383.26 L429.47,1381.12 L430.50,1379.06 L431.54,1377.09 L432.57,1375.23 L433.61,1373.47 L434.64,1371.84 L435.68,1370.34 L436.71,1368.97 L437.75,1367.76 L438.78,1366.70 L439.82,1365.81 L440.85,1365.09 L441.89,1364.56 L442.92,1364.19 L443.96,1363.98 L444.99,1363.92 L446.03,1364.00 L447.06,1364.20 L448.10,1364.52 L449.13,1364.94 L450.17,1365.45 L451.20,1366.05 L452.24,1366.72 L453.27,1367.45 L454.31,1368.22 L455.34,1369.04 L456.38,1369.88 L457.41,1370.74 L458.45,1371.61 L459.48,1372.47 L460.52,1373.32 L461.55,1374.14 L462.59,1374.92 L463.62,1375.65 L464.66,1376.32 L465.69,1376.93 L466.73,1377.45 L467.76,1377.88 L468.80,1378.22 L469.83,1378.46 L470.87,1378.62 L471.90,1378.68 L472.94,1378.67 L473.97,1378.56 L475.01,1378.38 L476.04,1378.12 L477.08,1377.78 L478.11,1377.37 L479.15,1376.89 L480.18,1376.34 L481.22,1375.72 L482.25,1375.04 L483.29,1374.29 L484.32,1373.48 L485.36,1372.62 L486.39,1371.70 L487.43,1370.72 L488.46,1369.70 L489.50,1368.63 L490.53,1367.51 L491.57,1366.34 L492.60,1365.14 L493.64,1363.89 L494.67,1362.61 L495.71,1361.29 L496.74,1359.94 L497.78,1358.56 L498.81,1357.15 L499.85,1355.71 L500.88,1354.25 L501.92,1352.77 L502.95,1351.27 L503.99,1349.75 L505.02,1348.22 L506.06,1346.67 L507.09,1345.10 L508.13,1343.52 L509.16,1341.93 L510.20,1340.33 L511.23,1338.72 L512.27,1337.10 L513.30,1335.47 L514.34,1333.84 L515.37,1332.20 L516.41,1330.56 L517.44,1328.91 L518.48,1327.26 L519.51,1325.62 L520.54,1323.97 L521.58,1322.32 L522.61,1320.68 L523.65,1319.05 L524.68,1317.41 L525.72,1315.79 L526.75,1314.17 L527.79,1312.56 L528.82,1310.97 L529.86,1309.38 L530.89,1307.81 L531.93,1306.25 L532.96,1304.70 L534.00,1303.17 L535.03,1301.66 L536.07,1300.17 L537.10,1298.69 L538.14,1297.24 L539.17,1295.81 L540.21,1294.40 L541.24,1293.02 L542.28,1291.66 L543.31,1290.33 L544.35,1289.02 L545.38,1287.74 L546.42,1286.49 L547.45,1285.26 L548.49,1284.06 L549.52,1282.87 L550.56,1281.71 L551.59,1280.57 L552.63,1279.45 L553.66,1278.36 L554.70,1277.28 L555.73,1276.22 L556.77,1275.17 L557.80,1274.15 L558.84,1273.14 L559.87,1272.15 L560.91,1271.17 L561.94,1270.20 L562.98,1269.25 L564.01,1268.31 L565.05,1267.39 L566.08,1266.47 L567.12,1265.56 L568.15,1264.67 L569.19,1263.78 L570.22,1262.90 L571.26,1262.03 L572.29,1261.17 L573.33,1260.31 L574.36,1259.46 L575.40,1258.61 L576.43,1257.77 L577.47,1256.93 L578.50,1256.09 L579.54,1255.25 L580.57,1254.41 L581.61,1253.58 L582.64,1252.74 L583.68,1251.90 L584.71,1251.06 L585.75,1250.22 L586.78,1249.37 L587.82,1248.52 L588.85,1247.67 L589.89,1246.80 L590.92,1245.94 L591.96,1245.06 L592.99,1244.18 L594.03,1243.29 L595.06,1242.39 L596.10,1241.47 L597.13,1240.55 L598.17,1239.62 L599.20,1238.67 L600.24,1237.72 L601.27,1236.75 L602.31,1235.77 L603.34,1234.78 L604.38,1233.78 L605.41,1232.76 L606.45,1231.73 L607.48,1230.68 L608.52,1229.62 L609.55,1228.55 L610.59,1227.47 L611.62,1226.37 L612.66,1225.25 L613.69,1224.12 L614.73,1222.97 L615.76,1221.81 L616.80,1220.64 L617.83,1219.44 L618.87,1218.23 L619.90,1217.01 L620.94,1215.76 L621.97,1214.50 L623.01,1213.22 L624.04,1211.93 L625.08,1210.61 L626.11,1209.28 L627.15,1207.93 L628.18,1206.56 L629.22,1205.17 L630.25,1203.76 L631.29,1202.33 L632.32,1200.88 L633.36,1199.41 L634.39,1197.93 L635.43,1196.42 L636.46,1194.88 L637.50,1193.33 L638.53,1191.76 L639.57,1190.16 L640.60,1188.54 L641.64,1186.90 L642.67,1185.24 L643.71,1183.55 L644.74,1181.84 L645.78,1180.11 L646.81,1178.35 L647.85,1176.57 L648.88,1174.77 L649.92,1172.94 L650.95,1171.08 L651.99,1169.20 L653.02,1167.30 L654.06,1165.37 L655.09,1163.41 L656.13,1161.42 L657.16,1159.41 L658.20,1157.38 L659.23,1155.31 L660.27,1153.22 L661.30,1151.10 L662.34,1148.96 L663.37,1146.78 L664.41,1144.58 L665.44,1142.35 L666.48,1140.09 L667.51,1137.80 L668.55,1135.48 L669.58,1133.14 L670.61,1130.77 L671.65,1128.37 L672.68,1125.95 L673.72,1123.50 L674.75,1121.03 L675.79,1118.53 L676.82,1116.02 L677.86,1113.48 L678.89,1110.91 L679.93,1108.33 L680.96,1105.72 L682.00,1103.09 L683.03,1100.45 L684.07,1097.78 L685.10,1095.09 L686.14,1092.39 L687.17,1089.67 L688.21,1086.93 L689.24,1084.17 L690.28,1081.40 L691.31,1078.61 L692.35,1075.81 L693.38,1072.99 L694.42,1070.16 L695.45,1067.31 L696.49,1064.45 L697.52,1061.58 L698.56,1058.70 L699.59,1055.80 L700.63,1052.90 L701.66,1049.98 L702.70,1047.06 L703.73,1044.12 L704.77,1041.18 L705.80,1038.23 L706.84,1035.27 L707.87,1032.30 L708.91,1029.33 L709.94,1026.35 L710.98,1023.36 L712.01,1020.37 L713.05,1017.38 L714.08,1014.38 L715.12,1011.38 L716.15,1008.38 L717.19,1005.37 L718.22,1002.36 L719.26,999.35 L720.29,996.34 L721.33,993.33 L722.36,990.32 L723.40,987.31 L724.43,984.31 L725.47,981.30 L726.50,978.30 L727.54,975.30 L728.57,972.31 L729.61,969.32 L730.64,966.33 L731.68,963.35 L732.71,960.37 L733.75,957.41 L734.78,954.44 L735.82,951.49 L736.85,948.54 L737.89,945.61 L738.92,942.68 L739.96,939.76 L740.99,936.85 L742.03,933.95 L743.06,931.07 L744.10,928.19 L745.13,925.33 L746.17,922.48 L747.20,919.64 L748.24,916.82 L749.27,914.01 L750.31,911.22 L751.34,908.44 L752.38,905.68 L753.41,902.93 L754.45,900.19 L755.48,897.48 L756.52,894.77 L757.55,892.09 L758.59,889.42 L759.62,886.77 L760.66,884.13 L761.69,881.51 L762.73,878.91 L763.76,876.32 L764.80,873.76 L765.83,871.21 L766.87,868.68 L767.90,866.17 L768.94,863.68 L769.97,861.20 L771.01,858.75 L772.04,856.31 L773.08,853.90 L774.11,851.50 L775.15,849.13 L776.18,846.78 L777.22,844.44 L778.25,842.13 L779.29,839.84 L780.32,837.57 L781.36,835.33 L782.39,833.10 L783.43,830.90 L784.46,828.72 L785.50,826.56 L786.53,824.43 L787.57,822.32 L788.60,820.23 L789.64,818.17 L790.67,816.13 L791.71,814.11 L792.74,812.12 L793.78,810.16 L794.81,808.22 L795.85,806.30 L796.88,804.41 L797.92,802.55 L798.95,800.71 L799.99,798.90 L801.02,797.12 L802.06,795.36 L803.09,793.63 L804.13,791.92 L805.16,790.25 L806.20,788.60 L807.23,786.98 L808.27,785.39 L809.30,783.83 L810.34,782.29 L811.37,780.79 L812.41,779.31 L813.44,777.86 L814.48,776.45 L815.51,775.06 L816.55,773.70 L817.58,772.38 L818.62,771.08 L819.65,769.82 L820.68,768.59 L821.72,767.39 L822.75,766.22 L823.79,765.08 L824.82,763.98 L825.86,762.90 L826.89,761.86 L827.93,760.86 L828.96,759.88 L830.00,758.94 L831.03,758.04 L832.07,757.17 L833.10,756.33 L834.14,755.53 L835.17,754.76 L836.21,754.03 L837.24,753.33 L838.28,752.67 L839.31,752.04 L840.35,751.45 L841.38,750.90 L842.42,750.38 L843.45,749.90 L844.49,749.45 L845.52,749.05 L846.56,748.68 L847.59,748.35 L848.63,748.05 L849.66,747.80 L850.70,747.58 L851.73,747.40 L852.77,747.26 L853.80,747.15 L854.84,747.09 L855.87,747.05 L856.91,747.06 L857.94,747.09 L858.98,747.17 L860.01,747.27 L861.05,747.41 L862.08,747.59 L863.12,747.79 L864.15,748.03 L865.19,748.30 L866.22,748.61 L867.26,748.94 L868.29,749.31 L869.33,749.71 L870.36,750.13 L871.40,750.59 L872.43,751.08 L873.47,751.59 L874.50,752.13 L875.54,752.71 L876.57,753.31 L877.61,753.93 L878.64,754.59 L879.68,755.27 L880.71,755.97 L881.75,756.70 L882.78,757.46 L883.82,758.24 L884.85,759.05 L885.89,759.88 L886.92,760.73 L887.96,761.61 L888.99,762.51 L890.03,763.43 L891.06,764.38 L892.10,765.34 L893.13,766.33 L894.17,767.34 L895.20,768.37 L896.24,769.41 L897.27,770.48 L898.31,771.57 L899.34,772.67 L900.38,773.80 L901.41,774.94 L902.45,776.10 L903.48,777.27 L904.52,778.47 L905.55,779.67 L906.59,780.90 L907.62,782.14 L908.66,783.39 L909.69,784.66 L910.73,785.95 L911.76,787.24 L912.80,788.55 L913.83,789.88 L914.87,791.21 L915.90,792.56 L916.94,793.92 L917.97,795.29 L919.01,796.67 L920.04,798.06 L921.08,799.47 L922.11,800.88 L923.15,802.30 L924.18,803.73 L925.22,805.17 L926.25,806.61 L927.29,808.07 L928.32,809.53 L929.36,811.00 L930.39,812.47 L931.43,813.95 L932.46,815.44 L933.50,816.93 L934.53,818.42 L935.57,819.92 L936.60,821.43 L937.64,822.93 L938.67,824.44 L939.71,825.96 L940.74,827.47 L941.78,828.99 L942.81,830.50 L943.85,832.02 L944.88,833.54 L945.92,835.06 L946.95,836.58 L947.99,838.10 L949.02,839.62 L950.06,841.14 L951.09,842.65 L952.13,844.16 L953.16,845.67 L954.20,847.18 L955.23,848.68 L956.27,850.18 L957.30,851.67 L958.34,853.16 L959.37,854.65 L960.41,856.13 L961.44,857.60 L962.48,859.07 L963.51,860.53 L964.55,861.98 L965.58,863.42 L966.62,864.86 L967.65,866.29 L968.69,867.71 L969.72,869.12 L970.75,870.52 L971.79,871.91 L972.82,873.29 L973.86,874.66 L974.89,876.01 L975.93,877.36 L976.96,878.69 L978.00,880.01 L979.03,881.32 L980.07,882.62 L981.10,883.90 L982.14,885.16 L983.17,886.42 L984.21,887.65 L985.24,888.87 L986.28,890.08 L987.31,891.27 L988.35,892.44 L989.38,893.60 L990.42,894.73 L991.45,895.85 L992.49,896.96 L993.52,898.04 L994.56,899.10 L995.59,900.15 L996.63,901.18 L997.66,902.19 L998.70,903.19 L999.73,904.16 L1000.77,905.12 L1001.80,906.06 L1002.84,906.99 L1003.87,907.90 L1004.91,908.79 L1005.94,909.67 L1006.98,910.53 L1008.01,911.37 L1009.05,912.20 L1010.08,913.01 L1011.12,913.80 L1012.15,914.59 L1013.19,915.35 L1014.22,916.10 L1015.26,916.84 L1016.29,917.56 L1017.33,918.26 L1018.36,918.95 L1019.40,919.63 L1020.43,920.29 L1021.47,920.94 L1022.50,921.58 L1023.54,922.20 L1024.57,922.81 L1025.61,923.40 L1026.64,923.98 L1027.68,924.55 L1028.71,925.10 L1029.75,925.65 L1030.78,926.18 L1031.82,926.69 L1032.85,927.20 L1033.89,927.69 L1034.92,928.17 L1035.96,928.64 L1036.99,929.10 L1038.03,929.55 L1039.06,929.98 L1040.10,930.40 L1041.13,930.82 L1042.17,931.22 L1043.20,931.61 L1044.24,931.99 L1045.27,932.36 L1046.31,932.72 L1047.34,933.07 L1048.38,933.41 L1049.41,933.74 L1050.45,934.06 L1051.48,934.37 L1052.52,934.68 L1053.55,934.97 L1054.59,935.25 L1055.62,935.53 L1056.66,935.80 L1057.69,936.06 L1058.73,936.31 L1059.76,936.55 L1060.80,936.78 L1061.83,937.01 L1062.87,937.23 L1063.90,937.44 L1064.94,937.64 L1065.97,937.84 L1067.01,938.03 L1068.04,938.21 L1069.08,938.39 L1070.11,938.56 L1071.15,938.72 L1072.18,938.88 L1073.22,939.03 L1074.25,939.18 L1075.29,939.32 L1076.32,939.45 L1077.36,939.58 L1078.39,939.70 L1079.43,939.82 L1080.46,939.93 L1081.50,940.04 L1082.53,940.15 L1083.57,940.25 L1084.60,940.34 L1085.64,940.43 L1086.67,940.52 L1087.71,940.60 L1088.74,940.68 L1089.78,940.76 L1090.81,940.83 L1091.85,940.90 L1092.88,940.97 L1093.92,941.03 L1094.95,941.10 L1095.99,941.15 L1097.02,941.21 L1098.06,941.26 L1099.09,941.32 L1100.13,941.37 L1101.16,941.42 L1102.20,941.46 L1103.23,941.51 L1104.27,941.55 L1105.30,941.60 L1106.34,941.64 L1107.37,941.68 L1108.41,941.72 L1109.44,941.76 L1110.48,941.80 L1111.51,941.84 L1112.55,941.88 L1113.58,941.92 L1114.62,941.96 L1115.65,942.00 L1116.69,942.05 L1117.72,942.09 L1118.76,942.13 L1119.79,942.18 L1120.82,942.22 L1121.86,942.27 L1122.89,942.32 L1123.93,942.37 L1124.96,942.42 L1126.00,942.48 L1127.03,942.53 L1128.07,942.59 L1129.10,942.66 L1130.14,942.72 L1131.17,942.79 L1132.21,942.86 L1133.24,942.93 L1134.28,943.01 L1135.31,943.09 L1136.35,943.18 L1137.38,943.27 L1138.42,943.36 L1139.45,943.46 L1140.49,943.56 L1141.52,943.66 L1142.56,943.77 L1143.59,943.89 L1144.63,944.01 L1145.66,944.13 L1146.70,944.26 L1147.73,944.40 L1148.77,944.54 L1149.80,944.69 L1150.84,944.84 L1151.87,945.00 L1152.91,945.17 L1153.94,945.34 L1154.98,945.52 L1156.01,945.70 L1157.05,945.90 L1158.08,946.09 L1159.12,946.30 L1160.15,946.51 L1161.19,946.73 L1162.22,946.95 L1163.26,947.18 L1164.29,947.42 L1165.33,947.67 L1166.36,947.92 L1167.40,948.17 L1168.43,948.43 L1169.47,948.70 L1170.50,948.98 L1171.54,949.26 L1172.57,949.54 L1173.61,949.83 L1174.64,950.13 L1175.68,950.43 L1176.71,950.74 L1177.75,951.06 L1178.78,951.38 L1179.82,951.70 L1180.85,952.04 L1181.89,952.37 L1182.92,952.71 L1183.96,953.06 L1184.99,953.41 L1186.03,953.77 L1187.06,954.13 L1188.10,954.50 L1189.13,954.87 L1190.17,955.25 L1191.20,955.64 L1192.24,956.02 L1193.27,956.42 L1194.31,956.81 L1195.34,957.21 L1196.38,957.62 L1197.41,958.03 L1198.45,958.45 L1199.48,958.87 L1200.52,959.29 L1201.55,959.72 L1202.59,960.16 L1203.62,960.59 L1204.66,961.04 L1205.69,961.48 L1206.73,961.93 L1207.76,962.39 L1208.80,962.84 L1209.83,963.31 L1210.87,963.77 L1211.90,964.24 L1212.94,964.72 L1213.97,965.20 L1215.01,965.68 L1216.04,966.16 L1217.08,966.65 L1218.11,967.14 L1219.15,967.64 L1220.18,968.14 L1221.22,968.64 L1222.25,969.15 L1223.29,969.65 L1224.32,970.17 L1225.36,970.68 L1226.39,971.20 L1227.43,971.72 L1228.46,972.25 L1229.50,972.77 L1230.53,973.31 L1231.57,973.84 L1232.60,974.37 L1233.64,974.91 L1234.67,975.45 L1235.71,976.00 L1236.74,976.55 L1237.78,977.10 L1238.81,977.65 L1239.85,978.20 L1240.88,978.76 L1241.92,979.32 L1242.95,979.88 L1243.99,980.44 L1245.02,981.01 L1246.06,981.57 L1247.09,982.14 L1248.13,982.71 L1249.16,983.29 L1250.20,983.86 L1251.23,984.44 L1252.27,985.02 L1253.30,985.60 L1254.34,986.18 L1255.37,986.77 L1256.41,987.35 L1257.44,987.94 L1258.48,988.53 L1259.51,989.12 L1260.55,989.71 L1261.58,990.30 L1262.62,990.90 L1263.65,991.49 L1264.69,992.09 L1265.72,992.68 L1266.76,993.28 L1267.79,993.88 L1268.83,994.48 L1269.86,995.08 L1270.90,995.68 L1271.93,996.29 L1272.96,996.89 L1274.00,997.49 L1275.03,998.10 L1276.07,998.70 L1277.10,999.31 L1278.14,999.91 L1279.17,1000.52 L1280.21,1001.13 L1281.24,1001.74 L1282.28,1002.34 L1283.31,1002.95 L1284.35,1003.56 L1285.38,1004.16 L1286.42,1004.77 L1287.45,1005.38 L1288.49,1005.99 L1289.52,1006.59 L1290.56,1007.20 L1291.59,1007.81 L1292.63,1008.42 L1293.66,1009.02 L1294.70,1009.63 L1295.73,1010.23 L1296.77,1010.84 L1297.80,1011.44 L1298.84,1012.05 L1299.87,1012.65 L1300.91,1013.25 L1301.94,1013.85 L1302.98,1014.45 L1304.01,1015.05 L1305.05,1015.65 L1306.08,1016.25 L1307.12,1016.85 L1308.15,1017.44 L1309.19,1018.04 L1310.22,1018.63 L1311.26,1019.22 L1312.29,1019.81 L1313.33,1020.40 L1314.36,1020.99 L1315.40,1021.57 L1316.43,1022.16 L1317.47,1022.74 L1318.50,1023.32 L1319.54,1023.90 L1320.57,1024.48 L1321.61,1025.06 L1322.64,1025.63 L1323.68,1026.21 L1324.71,1026.78 L1325.75,1027.34 L1326.78,1027.91 L1327.82,1028.48 L1328.85,1029.04 L1329.89,1029.60 L1330.92,1030.15 L1331.96,1030.71 L1332.99,1031.26 L1334.03,1031.81 L1335.06,1032.36 L1336.10,1032.91 L1337.13,1033.45 L1338.17,1033.99 L1339.20,1034.53 L1340.24,1035.06 L1341.27,1035.59 L1342.31,1036.12 L1343.34,1036.65 L1344.38,1037.17 L1345.41,1037.69 L1346.45,1038.21 L1347.48,1038.72 L1348.52,1039.23 L1349.55,1039.74 L1350.59,1040.25 L1351.62,1040.75 L1352.66,1041.24 L1353.69,1041.74 L1354.73,1042.23 L1355.76,1042.72 L1356.80,1043.20 L1357.83,1043.68 L1358.87,1044.15 L1359.90,1044.63 L1360.94,1045.09 L1361.97,1045.56 L1363.01,1046.02 L1364.04,1046.48 L1365.08,1046.93 L1366.11,1047.38 L1367.15,1047.83 L1368.18,1048.27 L1369.22,1048.71 L1370.25,1049.14 L1371.29,1049.57 L1372.32,1050.00 L1373.36,1050.42 L1374.39,1050.84 L1375.43,1051.26 L1376.46,1051.67 L1377.50,1052.08 L1378.53,1052.49 L1379.57,1052.89 L1380.60,1053.29 L1381.64,1053.69 L1382.67,1054.08 L1383.71,1054.47 L1384.74,1054.85 L1385.78,1055.24 L1386.81,1055.61 L1387.85,1055.99 L1388.88,1056.36 L1389.92,1056.73 L1390.95,1057.09 L1391.99,1057.45 L1393.02,1057.81 L1394.06,1058.17 L1395.09,1058.52 L1396.13,1058.87 L1397.16,1059.21 L1398.20,1059.55 L1399.23,1059.89 L1400.27,1060.23 L1401.30,1060.56 L1402.34,1060.89 L1403.37,1061.21 L1404.41,1061.54 L1405.44,1061.86 L1406.48,1062.17 L1407.51,1062.48 L1408.55,1062.79 L1409.58,1063.10 L1410.62,1063.40 L1411.65,1063.71 L1412.69,1064.00 L1413.72,1064.30 L1414.76,1064.59 L1415.79,1064.88 L1416.83,1065.16 L1417.86,1065.44 L1418.90,1065.72 L1419.93,1066.00 L1420.97,1066.27 L1422.00,1066.54 L1423.03,1066.81 L1424.07,1067.08 L1425.10,1067.34 L1426.14,1067.60 L1427.17,1067.85 L1428.21,1068.11 L1429.24,1068.36 L1430.28,1068.60 L1431.31,1068.85 L1432.35,1069.09 L1433.38,1069.33 L1434.42,1069.57 L1435.45,1069.80 L1436.49,1070.03 L1437.52,1070.26 L1438.56,1070.49 L1439.59,1070.71 L1440.63,1070.93 L1441.66,1071.15 L1442.70,1071.36 L1443.73,1071.57 L1444.77,1071.78 L1445.80,1071.99 L1446.84,1072.20 L1447.87,1072.40 L1448.91,1072.60 L1449.94,1072.79 L1450.98,1072.99 L1452.01,1073.18 L1453.05,1073.37 L1454.08,1073.56 L1455.12,1073.74 L1456.15,1073.92 L1457.19,1074.10 L1458.22,1074.28 L1459.26,1074.45 L1460.29,1074.62 L1461.33,1074.79 L1462.36,1074.96 L1463.40,1075.13 L1464.43,1075.29 L1465.47,1075.45 L1466.50,1075.61 L1467.54,1075.76 L1468.57,1075.92 L1469.61,1076.07 L1470.64,1076.22 L1471.68,1076.36 L1472.71,1076.51 L1473.75,1076.65 L1474.78,1076.79 L1475.82,1076.93 L1476.85,1077.06 L1477.89,1077.20 L1478.92,1077.33 L1479.96,1077.46 L1480.99,1077.59 L1482.03,1077.71 L1483.06,1077.83 L1484.10,1077.96 L1485.13,1078.07 L1486.17,1078.19 L1487.20,1078.31 L1488.24,1078.42 L1489.27,1078.53 L1490.31,1078.64 L1491.34,1078.75 L1492.38,1078.85 L1493.41,1078.95 L1494.45,1079.05 L1495.48,1079.15 L1496.52,1079.25 L1497.55,1079.35 L1498.59,1079.44 L1499.62,1079.53 L1500.66,1079.62 L1501.69,1079.71 L1502.73,1079.80 L1503.76,1079.88 L1504.80,1079.96 L1505.83,1080.04 L1506.87,1080.12 L1507.90,1080.20 L1508.94,1080.28 L1509.97,1080.35 L1511.01,1080.42 L1512.04,1080.49 L1513.08,1080.56 L1514.11,1080.63 L1515.15,1080.69 L1516.18,1080.76 L1517.22,1080.82 L1518.25,1080.88 L1519.29,1080.94 L1520.32,1081.00 L1521.36,1081.05 L1522.39,1081.11 L1523.43,1081.16 L1524.46,1081.21 L1525.50,1081.26 L1526.53,1081.31 L1527.57,1081.36 L1528.60,1081.40 L1529.64,1081.45 L1530.67,1081.49 L1531.71,1081.53 L1532.74,1081.57 L1533.78,1081.61 L1534.81,1081.65 L1535.85,1081.69 L1536.88,1081.72 L1537.92,1081.75 L1538.95,1081.79 L1539.99,1081.82 L1541.02,1081.85 L1542.06,1081.87 L1543.09,1081.90 L1544.13,1081.93 L1545.16,1081.95 L1546.20,1081.97 L1547.23,1082.00 L1548.27,1082.02 L1549.30,1082.04 L1550.34,1082.06 L1551.37,1082.07 L1552.41,1082.09 L1553.44,1082.10 L1554.48,1082.12 L1555.51,1082.13 L1556.55,1082.14 L1557.58,1082.15 L1558.62,1082.16 L1559.65,1082.17 L1560.69,1082.18 L1561.72,1082.19 L1562.76,1082.19 L1563.79,1082.20 L1564.83,1082.20 L1565.86,1082.21 L1566.90,1082.21 L1567.93,1082.21 L1568.97,1082.21 L1570.00,1082.21 L1571.04,1082.21 L1572.07,1082.21 L1573.10,1082.20 L1574.14,1082.20 L1575.17,1082.20 L1576.21,1082.19 L1577.24,1082.18 L1578.28,1082.18 L1579.31,1082.17 L1580.35,1082.16 L1581.38,1082.15 L1582.42,1082.14 L1583.45,1082.13 L1584.49,1082.12 L1585.52,1082.11 L1586.56,1082.10 L1587.59,1082.08 L1588.63,1082.07 L1589.66,1082.06 L1590.70,1082.04 L1591.73,1082.03 L1592.77,1082.01 L1593.80,1081.99 L1594.84,1081.98 L1595.87,1081.96 L1596.91,1081.94 L1597.94,1081.92 L1598.98,1081.90 L1600.01,1081.88 L1601.05,1081.86 L1602.08,1081.84 L1603.12,1081.82 L1604.15,1081.80 L1605.19,1081.78 L1606.22,1081.76 L1607.26,1081.74 L1608.29,1081.71 L1609.33,1081.69 L1610.36,1081.67 L1611.40,1081.64 L1612.43,1081.62 L1613.47,1081.60 L1614.50,1081.57 L1615.54,1081.55 L1616.57,1081.52 L1617.61,1081.50 L1618.64,1081.47 L1619.68,1081.45 L1620.71,1081.42 L1621.75,1081.40 L1622.78,1081.37 L1623.82,1081.35 L1624.85,1081.32 L1625.89,1081.29 L1626.92,1081.27 L1627.96,1081.24 L1628.99,1081.21 L1630.03,1081.19 L1631.06,1081.16 L1632.10,1081.13 L1633.13,1081.11 L1634.17,1081.08 L1635.20,1081.05 L1636.24,1081.03 L1637.27,1081.00 L1638.31,1080.97 L1639.34,1080.95 L1640.38,1080.92 L1641.41,1080.89 L1642.45,1080.86 L1643.48,1080.84 L1644.52,1080.81 L1645.55,1080.78 L1646.59,1080.75 L1647.62,1080.72 L1648.66,1080.70 L1649.69,1080.67 L1650.73,1080.64 L1651.76,1080.61 L1652.80,1080.58 L1653.83,1080.55 L1654.87,1080.53 L1655.90,1080.50 L1656.94,1080.47 L1657.97,1080.44 L1659.01,1080.41 L1660.04,1080.38 L1661.08,1080.35 L1662.11,1080.32 L1663.15,1080.29 L1664.18,1080.26 L1665.22,1080.23 L1666.25,1080.20 L1667.29,1080.17 L1668.32,1080.15 L1669.36,1080.12 L1670.39,1080.09 L1671.43,1080.06 L1672.46,1080.03 L1673.50,1079.99 L1674.53,1079.96 L1675.57,1079.93 L1676.60,1079.90 L1677.64,1079.87 L1678.67,1079.84 L1679.71,1079.81 L1680.74,1079.78 L1681.78,1079.75 L1682.81,1079.72 L1683.85,1079.69 L1684.88,1079.66 L1685.92,1079.63 L1686.95,1079.59 L1687.99,1079.56 L1689.02,1079.53 L1690.06,1079.50 L1691.09,1079.47 L1692.13,1079.44 L1693.16,1079.41 L1694.20,1079.37 L1695.23,1079.34 L1696.27,1079.31 L1697.30,1079.28 L1698.34,1079.25 L1699.37,1079.21 L1700.41,1079.18 L1701.44,1079.15 L1702.48,1079.12 L1703.51,1079.08 L1704.55,1079.05 L1705.58,1079.02 L1706.62,1078.99 L1707.65,1078.95 L1708.69,1078.92 L1709.72,1078.89 L1710.76,1078.85 L1711.79,1078.82 L1712.83,1078.79 L1713.86,1078.75 L1714.90,1078.72 L1715.93,1078.69 L1716.97,1078.65 L1718.00,1078.62 L1719.04,1078.59 L1720.07,1078.55 L1721.11,1078.52 L1722.14,1078.49 L1723.17,1078.45 L1724.21,1078.42 L1725.24,1078.38 L1726.28,1078.35 L1727.31,1078.32 L1728.35,1078.28 L1729.38,1078.25 L1730.42,1078.21 L1731.45,1078.18 L1732.49,1078.14 L1733.52,1078.11 L1734.56,1078.08 L1735.59,1078.04 L1736.63,1078.01 L1737.66,1077.97 L1738.70,1077.94 L1739.73,1077.90 L1740.77,1077.87 L1741.80,1077.83 L1742.84,1077.80 L1743.87,1077.76 L1744.91,1077.73 L1745.94,1077.69 L1746.98,1077.65 L1748.01,1077.62 L1749.05,1077.58 L1750.08,1077.55 L1751.12,1077.51 L1752.15,1077.48 L1753.19,1077.44 L1754.22,1077.41 L1755.26,1077.37 L1756.29,1077.33 L1757.33,1077.30 L1758.36,1077.26 L1759.40,1077.23 L1760.43,1077.19 L1761.47,1077.15 L1762.50,1077.12 L1763.54,1077.08 L1764.57,1077.04 L1765.61,1077.01 L1766.64,1076.97 L1767.68,1076.93 L1768.71,1076.90 L1769.75,1076.86 L1770.78,1076.82 L1771.82,1076.79 L1772.85,1076.75 L1773.89,1076.71 L1774.92,1076.68 L1775.96,1076.64 L1776.99,1076.60 L1778.03,1076.57 L1779.06,1076.53 L1780.10,1076.49 L1781.13,1076.45 L1782.17,1076.42 L1783.20,1076.38 L1784.24,1076.34 L1785.27,1076.30 L1786.31,1076.27 L1787.34,1076.23 L1788.38,1076.19 L1789.41,1076.15 L1790.45,1076.12 L1791.48,1076.08 L1792.52,1076.04 L1793.55,1076.00 L1794.59,1075.96 L1795.62,1075.93 L1796.66,1075.89 L1797.69,1075.85 L1798.73,1075.81 L1799.76,1075.77 L1800.80,1075.73 L1801.83,1075.70 L1802.87,1075.66 L1803.90,1075.62 L1804.94,1075.58 L1805.97,1075.54 L1807.01,1075.50 L1808.04,1075.47 L1809.08,1075.43 L1810.11,1075.39 L1811.15,1075.35 L1812.18,1075.31 L1813.22,1075.27 L1814.25,1075.23 L1815.29,1075.19 L1816.32,1075.15 L1817.36,1075.12 L1818.39,1075.08 L1819.43,1075.04 L1820.46,1075.00 L1821.50,1074.96 L1822.53,1074.92 L1823.57,1074.88 L1824.60,1074.84 L1825.64,1074.80 L1826.67,1074.76 L1827.71,1074.72 L1828.74,1074.68 L1829.78,1074.64 L1830.81,1074.60 L1831.85,1074.57 L1832.88,1074.53 L1833.92,1074.49 L1834.95,1074.45 L1835.99,1074.41 L1837.02,1074.37 L1838.06,1074.33 L1839.09,1074.29 L1840.13,1074.25 L1841.16,1074.21 L1842.20,1074.17 L1843.23,1074.13 L1844.27,1074.09 L1845.30,1074.05 L1846.34,1074.01 L1847.37,1073.97 L1848.41,1073.93 L1849.44,1073.89 L1850.48,1073.85 L1851.51,1073.81 L1852.55,1073.77 L1853.58,1073.73 L1854.62,1073.69 L1855.65,1073.64 L1856.69,1073.60 L1857.72,1073.56 L1858.76,1073.52 L1859.79,1073.48 L1860.83,1073.44 L1861.86,1073.40 L1862.90,1073.36 L1863.93,1073.32 L1864.97,1073.28 L1866.00,1073.24 L1867.04,1073.20 L1868.07,1073.16 L1869.11,1073.12 L1870.14,1073.08 L1871.18,1073.03 L1872.21,1072.99 L1873.24,1072.95 L1874.28,1072.91 L1875.31,1072.87 L1876.35,1072.83 L1877.38,1072.79 L1878.42,1072.75 L1879.45,1072.71 L1880.49,1072.67 L1881.52,1072.62 L1882.56,1072.58 L1883.59,1072.54 L1884.63,1072.50 L1885.66,1072.46 L1886.70,1072.42 L1887.73,1072.38 L1888.77,1072.34 L1889.80,1072.29 L1890.84,1072.25 L1891.87,1072.21 L1892.91,1072.17 L1893.94,1072.13 L1894.98,1072.09 L1896.01,1072.05 L1897.05,1072.00 L1898.08,1071.96 L1899.12,1071.92 L1900.15,1071.88 L1901.19,1071.84 L1902.22,1071.80 L1903.26,1071.76 L1904.29,1071.71 L1905.33,1071.67 L1906.36,1071.63 L1907.40,1071.59 L1908.43,1071.55 L1909.47,1071.51 L1910.50,1071.46 L1911.54,1071.42 L1912.57,1071.38 L1913.61,1071.34 L1914.64,1071.30 L1915.68,1071.26 L1916.71,1071.21 L1917.75,1071.17 L1918.78,1071.13 L1919.82,1071.09 L1920.85,1071.05 L1921.89,1071.00 L1922.92,1070.96 L1923.96,1070.92 L1924.99,1070.88 L1926.03,1070.84 L1927.06,1070.79 L1928.10,1070.75 L1929.13,1070.71 L1930.17,1070.67 L1931.20,1070.63 L1932.24,1070.58 L1933.27,1070.54 L1934.31,1070.50 L1935.34,1070.46 L1936.38,1070.42 L1937.41,1070.37 L1938.45,1070.33 L1939.48,1070.29 L1940.52,1070.25 L1941.55,1070.21 L1942.59,1070.16 L1943.62,1070.12 L1944.66,1070.08 L1945.69,1070.04 L1946.73,1069.99 L1947.76,1069.95 L1948.80,1069.91 L1949.83,1069.87 L1950.87,1069.83 L1951.90,1069.78 L1952.94,1069.74 L1953.97,1069.70 L1955.01,1069.66 L1956.04,1069.62 L1957.08,1069.57 L1958.11,1069.53 L1959.15,1069.49 L1960.18,1069.45 L1961.22,1069.40 L1962.25,1069.36 L1963.29,1069.32 L1964.32,1069.28 L1965.36,1069.24 L1966.39,1069.19 L1967.43,1069.15 L1968.46,1069.11 L1969.50,1069.07 L1970.53,1069.02 L1971.57,1068.98" fill="none" stroke="#f00" stroke-width="10" stroke-linejoin="round"/>
<polygon points="420.15,1368.31 454.15,1402.31 420.15,1436.31 386.15,1402.31" fill="#fff" stroke="#f00" stroke-width="3.6" stroke-linejoin="miter"/>
<polygon points="440.57,1331.27 474.57,1365.27 440.57,1399.27 406.57,1365.27" fill="#fff" stroke="#f00" stroke-width="3.6" stroke-linejoin="miter"/>
<polygon points="467.10,1343.62 501.10,1377.62 467.10,1411.62 433.10,1377.62" fill="#fff" stroke="#f00" stroke-width="3.6" stroke-linejoin="miter"/>
<polygon points="501.81,1318.93 535.81,1352.93 501.81,1386.93 467.81,1352.93" fill="#fff" stroke="#f00" stroke-width="3.6" stroke-linejoin="miter"/>
<polygon points="542.63,1257.20 576.63,1291.20 542.63,1325.20 508.63,1291.20" fill="#fff" stroke="#f00" stroke-width="3.6" stroke-linejoin="miter"/>
<polygon points="595.71,1207.82 629.71,1241.82 595.71,1275.82 561.71,1241.82" fill="#fff" stroke="#f00" stroke-width="3.6" stroke-linejoin="miter"/>
<polygon points="665.11,1109.05 699.11,1143.05 665.11,1177.05 631.11,1143.05" fill="#fff" stroke="#f00" stroke-width="3.6" stroke-linejoin="miter"/>
<polygon points="746.77,886.84 780.77,920.84 746.77,954.84 712.77,920.84" fill="#fff" stroke="#f00" stroke-width="3.6" stroke-linejoin="miter"/>
<polygon points="848.83,714.00 882.83,748.00 848.83,782.00 814.83,748.00" fill="#fff" stroke="#f00" stroke-width="3.6" stroke-linejoin="miter"/>
<polygon points="991.73,862.15 1025.73,896.15 991.73,930.15 957.73,896.15" fill="#fff" stroke="#f00" stroke-width="3.6" stroke-linejoin="miter"/>
<polygon points="1155.03,911.53 1189.03,945.53 1155.03,979.53 1121.03,945.53" fill="#fff" stroke="#f00" stroke-width="3.6" stroke-linejoin="miter"/>
<polygon points="1359.17,1010.29 1393.17,1044.29 1359.17,1078.29 1325.17,1044.29" fill="#fff" stroke="#f00" stroke-width="3.6" stroke-linejoin="miter"/>
<polygon points="1624.54,1047.33 1658.54,1081.33 1624.54,1115.33 1590.54,1081.33" fill="#fff" stroke="#f00" stroke-width="3.6" stroke-linejoin="miter"/>
<polygon points="1971.57,1034.98 2005.57,1068.98 1971.57,1102.98 1937.57,1068.98" fill="#fff" stroke="#f00" stroke-width="3.6" stroke-linejoin="miter"/>
</g>
<rect x="338.50" y="69.00" width="1837.20" height="1358.00" fill="none" stroke="#000" stroke-width="9.4" stroke-linejoin="miter"/>
<path d="M542.63,1427.00 V1412.50 M746.77,1427.00 V1399.00 M950.90,1427.00 V1412.50 M1155.03,1427.00 V1399.00 M1359.17,1427.00 V1412.50 M1563.30,1427.00 V1399.00 M1767.43,1427.00 V1412.50 M1971.57,1427.00 V1399.00 M338.50,1303.55 H353.00 M338.50,1180.09 H366.50 M338.50,1056.64 H353.00 M338.50,933.18 H366.50 M338.50,809.73 H353.00 M338.50,686.27 H366.50 M338.50,562.82 H353.00 M338.50,439.36 H366.50 M338.50,315.91 H353.00 M338.50,192.45 H366.50" fill="none" stroke="#000" stroke-width="9.4"/>
<text x="309.8" y="1452.5" font-size="86" text-anchor="end">0.0</text>
<text x="309.8" y="1205.6" font-size="86" text-anchor="end">0.2</text>
<text x="309.8" y="958.7" font-size="86" text-anchor="end">0.4</text>
<text x="309.8" y="711.8" font-size="86" text-anchor="end">0.6</text>
<text x="309.8" y="464.9" font-size="86" text-anchor="end">0.8</text>
<text x="309.8" y="218.0" font-size="86" text-anchor="end">1.0</text>
<text x="338.5" y="1523" font-size="86" text-anchor="middle">0</text>
<text x="746.8" y="1523" font-size="86" text-anchor="middle">1000</text>
<text x="1155.0" y="1523" font-size="86" text-anchor="middle">2000</text>
<text x="1563.3" y="1523" font-size="86" text-anchor="middle">3000</text>
<text x="1971.6" y="1523" font-size="86" text-anchor="middle">4000</text>
<text transform="translate(1257.45,1657.6) scale(0.985,1)" font-size="86" text-anchor="middle">Frequency (Hz)</text>
<text transform="translate(105.6,748.6) rotate(-90)" x="0" y="0" font-size="86" text-anchor="middle">Sound absorption coefficient</text>
<text transform="translate(1482.9,441.0) scale(0.9894,1)" font-size="86" fill="#00f">A12C2-1350 °C</text>
<text transform="translate(1482.9,994.7) scale(0.9894,1)" font-size="86" fill="#f00">A12C0-1350 °C</text>
<text transform="translate(1524.3,1275.4) scale(0.9917,1)" font-size="86" fill="#000">A0C0-1350 °C</text>
</svg>
</body></html>
